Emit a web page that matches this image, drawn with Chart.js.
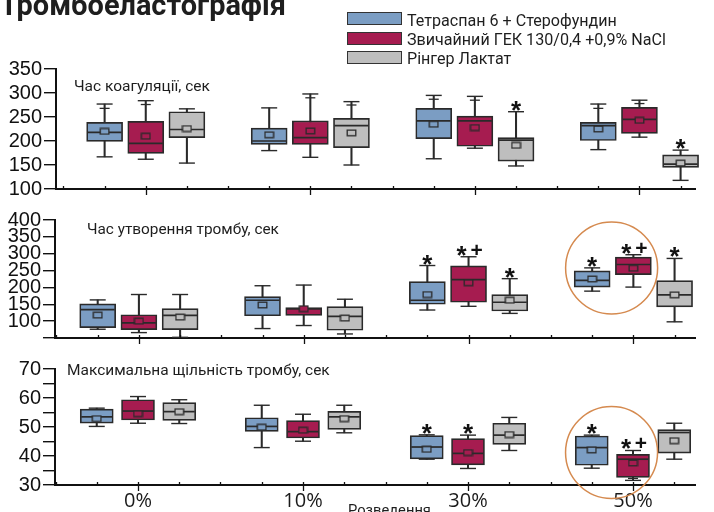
<!DOCTYPE html>
<html><head><meta charset="utf-8">
<script src="https://cdn.jsdelivr.net/npm/chart.js@4.4.1/dist/chart.umd.min.js"></script>
<style>
html,body{margin:0;padding:0;background:#fff;}
#wrap{position:relative;width:714px;height:512px;overflow:hidden;background:#fff;}
canvas{position:absolute;left:0;top:0;}
.txt{position:absolute;left:0;top:0;white-space:nowrap;color:#1e1e1e;font-family:Roboto,"Noto Sans",sans-serif;line-height:1;font-size:16px;}
.probe{display:inline-block;width:0;height:0;}
.sw{position:absolute;left:347px;width:55px;height:13px;border:1.5px solid #333;box-sizing:border-box;}
</style></head><body>
<div id="wrap">
  <canvas id="c1" width="714" height="512"></canvas>
  <canvas id="c2" width="714" height="512"></canvas>
  <canvas id="c3" width="714" height="512"></canvas>
  <div class="txt" id="tTitle" style="font-weight:bold;font-size:28px">Тромбоеластографія<span class="probe"></span></div>
  <div class="sw" style="top:12px;background:#7b9dc3"></div>
  <div class="sw" style="top:32px;background:#a61c50"></div>
  <div class="sw" style="top:51px;background:#bebebe"></div>
  <div class="txt" id="tLeg1"><span class="lt"></span><span class="probe"></span></div>
  <div class="txt" id="tLeg2"><span class="lt"></span><span class="probe"></span></div>
  <div class="txt" id="tLeg3"><span class="lt"></span><span class="probe"></span></div>
  <div class="txt" id="tP1">Час коагуляції, сек<span class="probe"></span></div>
  <div class="txt" id="tP2">Час утворення тромбу, сек<span class="probe"></span></div>
  <div class="txt" id="tP3">Максимальна щільність тромбу, сек<span class="probe"></span></div>
  <div class="txt" id="tXTitle">Розведення<span class="probe"></span></div>
</div>
<script>
// ---------- DATA ----------
const categories = ['0%', '10%', '30%', '50%'];
const seriesNames = ['Тетраспан 6 + Стерофундин', 'Звичайний ГЕК 130/0,4 +0,9% NaCl', 'Рінгер Лактат'];

// each box: [whisker low, Q1, median, Q3, whisker high]
// Panel 1 – час коагуляції, сек
const coagTetraspan = [[167,199,218,239,277],[180,193,200,227,269],[163,205,242,268,295],[182,201,232,239,277]];
const coagGek       = [[162,174,195,241,284],[166,193,207,242,298],[185,189,242,252,293],[208,216,245,270,285]];
const coagRinger    = [[154,207,224,261,267],[150,186,232,247,282],[148,158,202,207,261],[118,145,152,171,181]];
const coagTetraspanMean = [220,213,235,225];
const coagGekMean       = [210,221,228,243];
const coagRingerMean    = [226,217,191,154];
const coagTetraspanMark = [268,null,287,268];
const coagGekMark       = [276,290,285,278];
const coagRingerMark    = [null,275,null,null];
const coagTetraspanSig  = ['','','',''];
const coagGekSig        = ['','','',''];
const coagRingerSig     = ['','','*','*'];
const coagTickValues = [100,150,200,250,300,350];
const coagTickLabels = ['100','150','200','250','300','350'];

// Panel 2 – час утворення тромбу, сек
const clotTetraspan = [[76,81,134,151,163],[78,116,162,173,205],[133,150,162,217,265],[189,201,221,249,258]];
const clotGek       = [[66,75,95,119,179],[87,117,136,140,207],[144,156,223,264,291],[201,238,268,290,297]];
const clotRinger    = [[52,75,117,137,179],[62,73,114,143,165],[123,130,156,179,226],[98,142,178,220,286]];
const clotTetraspanMean = [118,148,179,225];
const clotGekMean       = [100,137,214,257];
const clotRingerMean    = [112,109,162,178];
const clotTetraspanMark = [null,null,null,null];
const clotGekMark       = [null,null,null,null];
const clotRingerMark    = [null,null,null,null];
const clotTetraspanSig  = ['','','*','*'];
const clotGekSig        = ['','','*+','*+'];
const clotRingerSig     = ['','','*','*'];
const clotTickValues = [50,100,150,200,250,300,350,400];
const clotTickLabels = ['','100','150','200','250','300','350','400'];

// Panel 3 – максимальна щільність тромбу
const densTetraspan = [[50.2,51.3,53.5,56.2,56.5],[42.9,48.5,50.2,53.2,57.5],[38.9,39.0,43.1,47.0,47.3],[35.8,36.8,42.9,46.9,47.2]];
const densGek       = [[51.3,52.4,55.5,59.4,60.5],[45.1,46.2,48.4,52.2,54.4],[35.7,36.9,40.9,46.0,47.2],[31.6,32.6,38.9,40.6,41.9]];
const densRinger    = [[51.2,52.3,55.3,58.4,59.4],[48.0,49.2,53.5,55.4,57.5],[41.9,44.0,47.2,51.3,53.3],[38.9,41.0,48.1,49.1,51.3]];
const densTetraspanMean = [52.9,49.9,42.3,42.1];
const densGekMean       = [54.6,48.9,41.2,37.6];
const densRingerMean    = [55.3,52.9,47.4,45.3];
const densTetraspanMark = [null,null,null,null];
const densGekMark       = [null,null,null,32.3];
const densRingerMark    = [null,null,null,null];
const densTetraspanSig  = ['','','*','*'];
const densGekSig        = ['','','*','*+'];
const densRingerSig     = ['','','',''];
const densTickValues = [30,35,40,45,50,55,60,65,70];
const densTickLabels = ['30','','40','','50','','60','','70'];

// ---------- STYLE ----------
const fills = ['#7b9dc3', '#a61c50', '#bebebe'];
const edge = '#2a2a2a';
const seriesOffset = [-0.25, 0, 0.25];
const pxPerCategory = 165;

// small rectangular mean marker (one per series colour)
function meanMarker(fill) {
  const c = document.createElement('canvas');
  c.width = 11; c.height = 8;
  const g = c.getContext('2d');
  g.fillStyle = fill; g.fillRect(1, 1, 9, 6);
  g.strokeStyle = edge; g.lineWidth = 1.3; g.strokeRect(1.2, 1.2, 8.6, 5.6);
  return c;
}
const meanMarkers = fills.map(meanMarker);

const panels = [
  {id:'c1', stats:[coagTetraspan,coagGek,coagRinger], means:[coagTetraspanMean,coagGekMean,coagRingerMean],
   marks:[coagTetraspanMark,coagGekMark,coagRingerMark], sig:[coagTetraspanSig,coagGekSig,coagRingerSig],
   ticks:coagTickValues, labels:coagTickLabels, yMin:100, yMax:350,
   top:69, bottom:189, left:56, right:697, zero:146, boxW:36, showX:false, circle:null},
  {id:'c2', stats:[clotTetraspan,clotGek,clotRinger], means:[clotTetraspanMean,clotGekMean,clotRingerMean],
   marks:[clotTetraspanMark,clotGekMark,clotRingerMark], sig:[clotTetraspanSig,clotGekSig,clotRingerSig],
   ticks:clotTickValues, labels:clotTickLabels, yMin:50, yMax:400,
   top:220, bottom:338, left:55, right:696, zero:139, boxW:36, showX:false, circle:{x:2.868, y:257.5, r:46}},
  {id:'c3', stats:[densTetraspan,densGek,densRinger], means:[densTetraspanMean,densGekMean,densRingerMean],
   marks:[densTetraspanMark,densGekMark,densRingerMark], sig:[densTetraspanSig,densGekSig,densRingerSig],
   ticks:densTickValues, labels:densTickLabels, yMin:30, yMax:70,
   top:369, bottom:485, left:55, right:695, zero:138, boxW:33, showX:true, circle:{x:2.87, y:41.2, r:46}}
];

function buildDatasets(p) {
  const ds = [];
  p.stats.forEach((st, s) => {
    const xs = categories.map((c, i) => i + seriesOffset[s]);
    ds.push({type:'bar', label:seriesNames[s]+' whisker', data: st.map((b,i)=>({x:xs[i], y:[b[0], b[4]]})),
      backgroundColor: edge, borderWidth:0, maxBarThickness:1.4, grouped:false, order:6, clip:false,
      categoryPercentage:1, barPercentage:1});
    ds.push({type:'bar', label:seriesNames[s], data: st.map((b,i)=>({x:xs[i], y:[b[1], b[3]]})),
      backgroundColor: fills[s], borderColor: edge, borderWidth:1.7, borderSkipped:false,
      maxBarThickness:p.boxW, grouped:false, order:5, clip:false, categoryPercentage:1, barPercentage:1});
    ds.push({type:'scatter', data: st.flatMap((b,i)=>[{x:xs[i], y:b[0]},{x:xs[i], y:b[4]}]),
      pointStyle:'line', pointRadius:8, borderColor: edge, borderWidth:1.4, order:3, clip:false});
    ds.push({type:'scatter', data: st.map((b,i)=>({x:xs[i], y:b[2]})),
      pointStyle:'line', pointRadius:p.boxW/2 - 1, borderColor: edge, borderWidth:1.7, order:2, clip:false});
    ds.push({type:'scatter', data: p.marks[s].map((m,i)=>({x:xs[i], y:m})).filter(d=>d.y!==null),
      pointStyle:'line', pointRadius:5, borderColor: edge, borderWidth:1.3, order:2, clip:false});
    ds.push({type:'scatter', data: p.means[s].map((m,i)=>({x:xs[i], y:m})),
      pointStyle: meanMarkers[s], pointRadius:5, order:0, clip:false});
  });
  return ds;
}

const extrasPlugin = {
  id: 'extras',
  afterDatasetsDraw(chart, args, o) {
    const {ctx, chartArea, scales:{x, y}} = chart;
    const p = o.panel;
    ctx.save();
    // x axis tick marks (major crossing the axis, minor above it)
    ctx.strokeStyle = '#111'; ctx.lineWidth = 1.3;
    const yb = chartArea.bottom + 1;
    for (let v = Math.ceil(x.min*4)/4; v <= x.max; v += 0.25) {
      const px = Math.round(x.getPixelForValue(v)) + 0.5;
      const major = Math.abs(v - Math.round(v)) < 1e-6;
      ctx.beginPath();
      ctx.moveTo(px, yb - 4);
      ctx.lineTo(px, major ? yb + 5 : yb);
      ctx.stroke();
    }
    // significance marks
    ctx.fillStyle = '#111';
    ctx.textAlign = 'center';
    ctx.textBaseline = 'alphabetic';
    p.stats.forEach((st, s) => st.forEach((b, i) => {
      const t = p.sig[s][i];
      if (!t) return;
      const px = x.getPixelForValue(i + seriesOffset[s]);
      const cy = y.getPixelForValue(b[4]) - 8;
      ctx.font = 'bold 26px "Liberation Sans", Arial, sans-serif';
      if (t === '*') {
        ctx.fillText('*', px, cy + 15);
      } else {
        ctx.fillText('*', px - 7, cy + 15);
        ctx.font = 'bold 21px "Liberation Sans", Arial, sans-serif';
        ctx.fillText('+', px + 8, cy + 8);
      }
    }));
    // highlight circle
    if (p.circle) {
      const cx = x.getPixelForValue(p.circle.x);
      const cy = y.getPixelForValue(p.circle.y);
      ctx.strokeStyle = '#d58a4f'; ctx.lineWidth = 1.5;
      ctx.beginPath(); ctx.ellipse(cx, cy, p.circle.r, p.circle.r, 0, 0, Math.PI*2); ctx.stroke();
    }
    ctx.restore();
  }
};

panels.forEach(p => {
  const xH = p.showX ? 512 - p.bottom : 0;
  new Chart(document.getElementById(p.id), {
    type: 'bar',
    data: { datasets: buildDatasets(p) },
    plugins: [extrasPlugin],
    options: {
      responsive: false, animation: false, events: [],
      layout: { padding: { left: 0, right: 714 - p.right, top: p.top, bottom: 512 - p.bottom - xH } },
      plugins: { legend: {display:false}, tooltip: {enabled:false}, extras: {panel: p} },
      scales: {
        x: {
          type: 'linear', offset: false,
          min: -(p.zero - p.left) / pxPerCategory, max: (p.right - p.zero) / pxPerCategory,
          afterBuildTicks: s => { s.ticks = categories.map((c, i) => ({value: i})); },
          afterFit: s => { s.height = xH; },
          grid: { display: false, drawTicks: false },
          border: { display: true, color: '#111', width: 2 },
          ticks: { display: p.showX, autoSkip: false, maxRotation: 0, padding: 4, color: '#1a1a1a',
                   font: { family: '"Open Sans", Roboto, sans-serif', size: 20 },
                   callback: (v, i) => categories[i] }
        },
        y: {
          min: p.yMin, max: p.yMax,
          afterBuildTicks: s => { s.ticks = p.ticks.map(v => ({value: v})); },
          afterFit: s => { s.width = p.left; },
          grid: { display: true, drawOnChartArea: false, drawTicks: true, tickLength: 12, color: '#111', lineWidth: 1.4 },
          border: { display: true, color: '#111', width: 2 },
          ticks: { autoSkip: false, padding: 2, color: '#111', font: { family: '"Liberation Sans", Arial, sans-serif', size: 20 },
                   callback: (v, i) => p.labels[i] }
        }
      }
    }
  });
});

// ---------- TEXT PLACEMENT ----------
const wrapTop = document.getElementById('wrap').getBoundingClientRect().top;
function place(id, left, baseline, width, size) {
  const el = document.getElementById(id);
  if (size) el.style.fontSize = size + 'px';
  if (width) {
    const w = el.getBoundingClientRect().width;
    const fs = parseFloat(getComputedStyle(el).fontSize);
    el.style.fontSize = (fs * width / w) + 'px';
  }
  el.style.left = left + 'px';
  el.style.top = '0px';
  const b = el.querySelector('.probe').getBoundingClientRect().bottom - wrapTop;
  el.style.top = (baseline - b) + 'px';
  return parseFloat(el.style.fontSize || getComputedStyle(el).fontSize);
}
['tLeg1','tLeg2','tLeg3'].forEach((id, i) => { document.querySelector('#' + id + ' .lt').textContent = seriesNames[i]; });
place('tTitle', 0, 15, 286);
const legSize = place('tLeg1', 407, 26, 210);
place('tLeg2', 407, 45, 0, legSize);
place('tLeg3', 407, 64, 0, legSize);
place('tP1', 74, 90.5, 136);
place('tP2', 87, 234, 192);
place('tP3', 67, 375, 263);
place('tXTitle', 348, 515, 83);
</script>
</body></html>
